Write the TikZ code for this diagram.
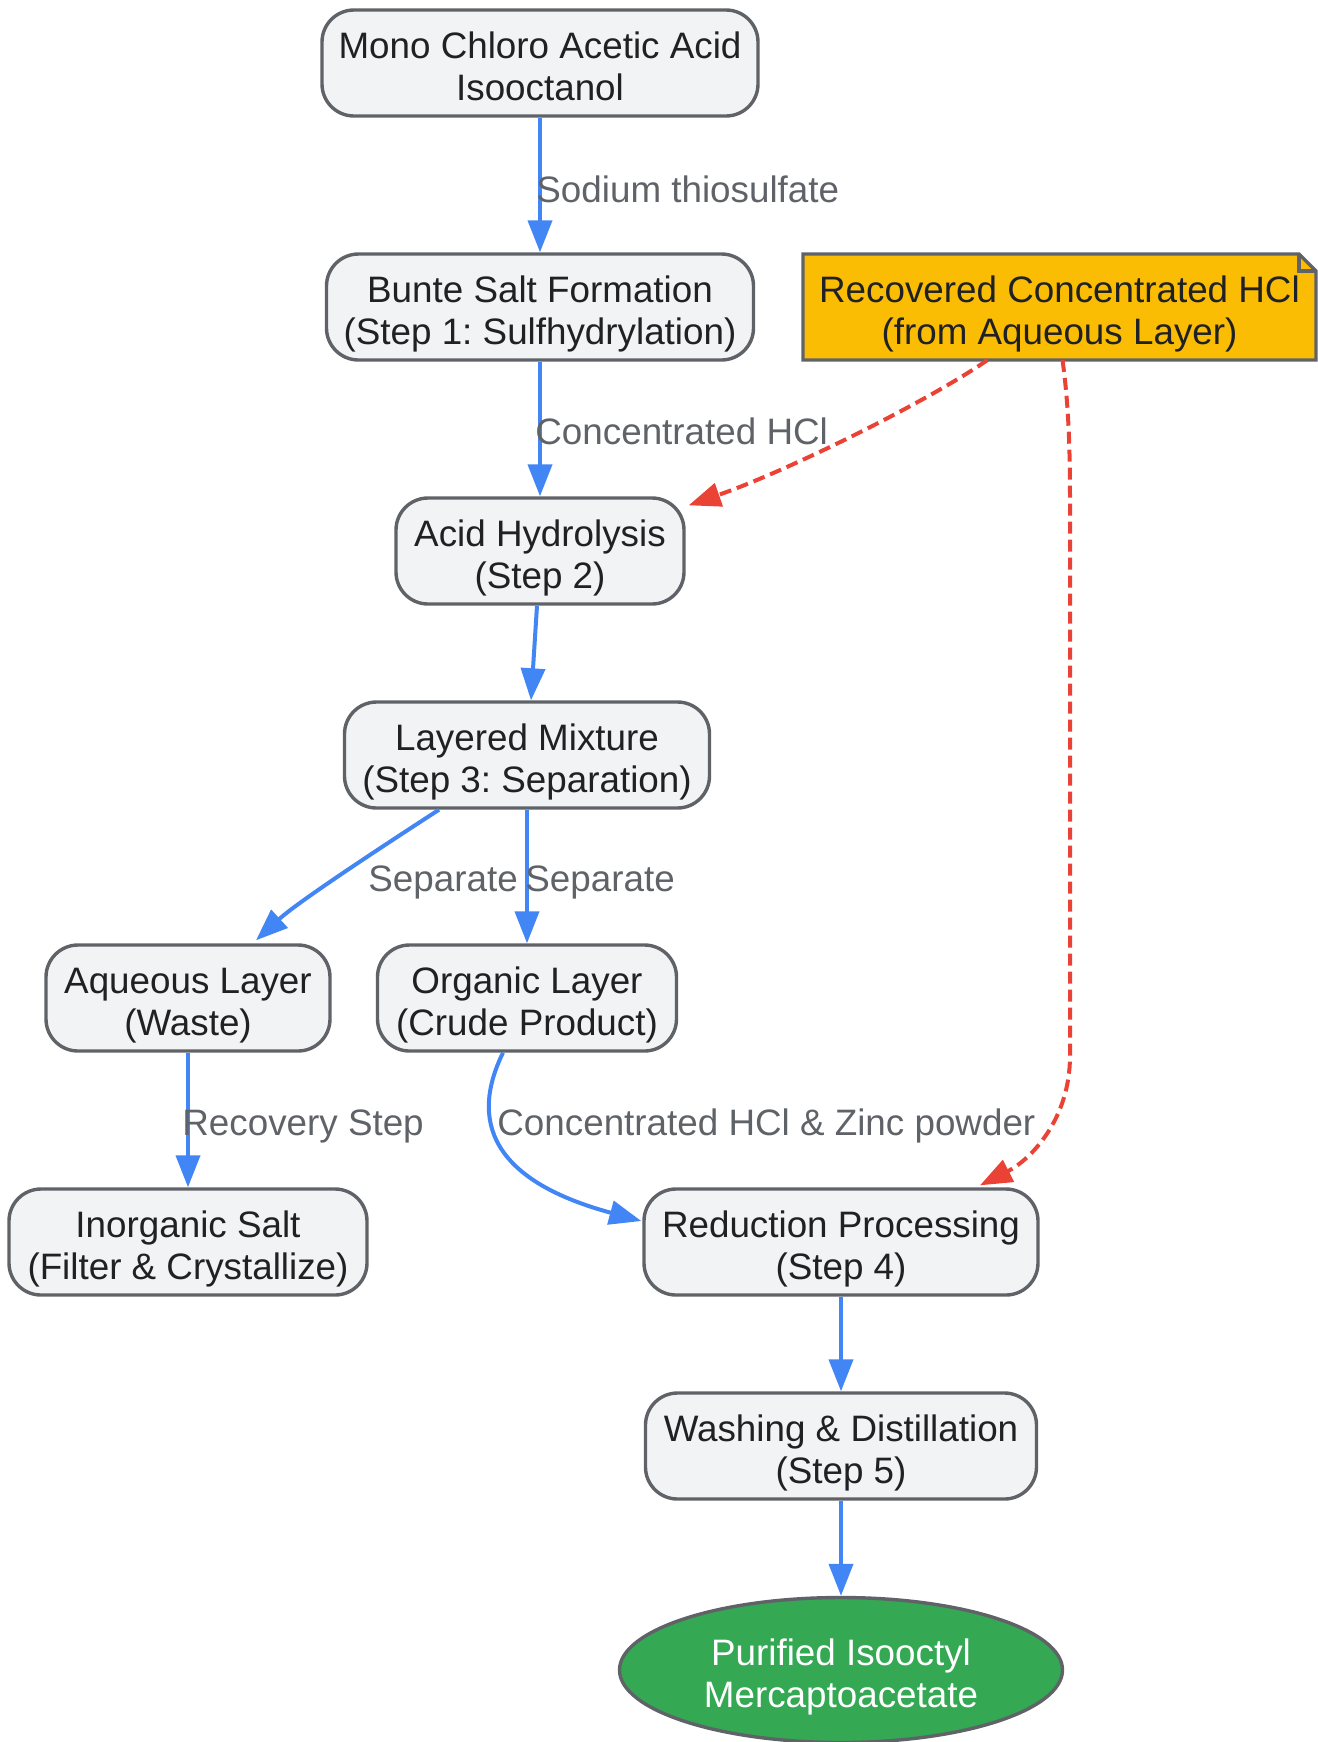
\documentclass[tikz,border=0pt]{standalone}
\usepackage{fontspec}
\setmainfont{Liberation Sans}
\usetikzlibrary{shapes.geometric,arrows.meta,calc,backgrounds}
\definecolor{boxfill}{HTML}{F1F3F4}
\definecolor{boxline}{HTML}{5F6368}
\definecolor{txt}{HTML}{202124}
\definecolor{lbl}{HTML}{5F6368}
\definecolor{flow}{HTML}{4285F4}
\definecolor{recy}{HTML}{EA4335}
\definecolor{notefill}{HTML}{FBBC04}
\definecolor{endfill}{HTML}{34A853}
\newcommand{\tline}{\rule{0pt}{20.5pt}}
\newcommand{\bline}{\rule[-4pt]{0pt}{4pt}}
\frenchspacing
\begin{document}
\begin{tikzpicture}[x=0.5pt,y=-0.5pt,
 font=\fontsize{18.4}{21}\selectfont\frenchspacing,
 proc/.style={draw=boxline, fill=boxfill, line width=1.7pt, rounded corners=16pt, align=center, text=txt, minimum height=53pt, inner sep=0pt},
 flowarrow/.style={draw=flow, line width=2pt, -{Triangle[length=16pt,width=12pt]}},
 recyarrow/.style={draw=recy, line width=2pt, dash pattern=on 6pt off 3pt, -{Triangle[length=16pt,width=12pt]}},
 elabel/.style={text=lbl, anchor=base west, inner sep=0pt},
]
\useasboundingbox (0,0) rectangle (1318,1742);

\node[proc, minimum width=218pt] (mca) at (540,63) {\tline Mono Chloro Acetic Acid\\Isooctanol\bline};
\node[proc, minimum width=213.5pt] (bunte) at (540,307) {\tline Bunte Salt Formation\\(Step 1: Sulfhydrylation)\bline};
\node[proc, minimum width=144pt] (acid) at (540,551) {\tline Acid Hydrolysis\\(Step 2)\bline};
\node[proc, minimum width=182.5pt] (layer) at (527,755) {\tline Layered Mixture\\(Step 3: Separation)\bline};
\node[proc, minimum width=142pt] (aq) at (188,998) {\tline Aqueous Layer\\(Waste)\bline};
\node[proc, minimum width=149.5pt] (org) at (527,998) {\tline Organic Layer\\(Crude Product)\bline};
\node[proc, minimum width=179pt] (salt) at (188,1242) {\tline Inorganic Salt\\(Filter \& Crystallize)\bline};
\node[proc, minimum width=197pt] (redu) at (841,1242) {\tline Reduction Processing\\(Step 4)\bline};
\node[proc, minimum width=195.5pt] (wash) at (841,1446) {\tline Washing \& Distillation\\(Step 5)\bline};
\node[draw=boxline, fill=endfill, line width=1.7pt, ellipse, minimum width=221.5pt, minimum height=72.5pt, inner sep=0pt, align=center, text=white] (prod) at (841,1670) {\tline Purified Isooctyl\\Mercaptoacetate\bline};

\node[minimum width=256.5pt, minimum height=53pt, inner sep=0pt, outer sep=0pt, align=center, text=txt] (note) at (1059.5,307) {\tline Recovered Concentrated HCl\\(from Aqueous Layer)\bline};
\begin{scope}[on background layer]
\filldraw[fill=notefill, draw=boxline, line width=1.7pt, line join=miter]
  (note.north west) -- ($(note.north east)+(-17,0)$) -- ($(note.north east)+(0,17)$) -- (note.south east) -- (note.south west) -- cycle;
\end{scope}
\draw[boxline, line width=1.7pt] ($(note.north east)+(-17,0)$) -- ($(note.north east)+(-17,17)$) -- ($(note.north east)+(0,17)$);

\draw[flowarrow] (mca) -- (bunte);
\node[elabel] (l1) at (536,202) {Sodium thiosulfate};
\draw[flowarrow] (bunte) -- (acid);
\node[elabel] (l2) at (535,444) {Concentrated HCl};
\draw[flowarrow] ($(acid.south)+(-3,0)$) -- ($(layer.north)+(4,0)$);
\draw[recyarrow] ($(note.south)+(-72,0)$) .. controls (930,400) and (790,470) .. ($(acid.north east)+(3,9)$);
\draw[recyarrow] ($(note.south)+(3,0)$) .. controls (1068,400) and (1070,440) .. (1070,500) -- (1070,1056) .. controls (1070,1120) and (1030,1160) .. ($(redu.north)+(139,-2)$);

\draw[flowarrow] ($(layer.south)+(-88,0)$) .. controls (400,835) and (300,900) .. ($(aq.north)+(68,-3)$);
\node[elabel] (l3) at (368,891) {Separate};
\draw[flowarrow] (layer) -- (org);
\node[elabel] (l4) at (525,891) {Separate};
\draw[flowarrow] (aq) -- (salt);
\node[elabel] (l5) at (182,1135) {Recovery Step};
\draw[flowarrow] ($(org.south)+(-24,0)$) .. controls (470,1120) and (490,1180) .. ($(redu.west)+(-1,-21)$);
\node[elabel] (l6) at (497,1135) {Concentrated HCl \& Zinc powder};
\draw[flowarrow] (redu) -- (wash);
\draw[flowarrow] (wash) -- (prod);
\end{tikzpicture}
\end{document}
